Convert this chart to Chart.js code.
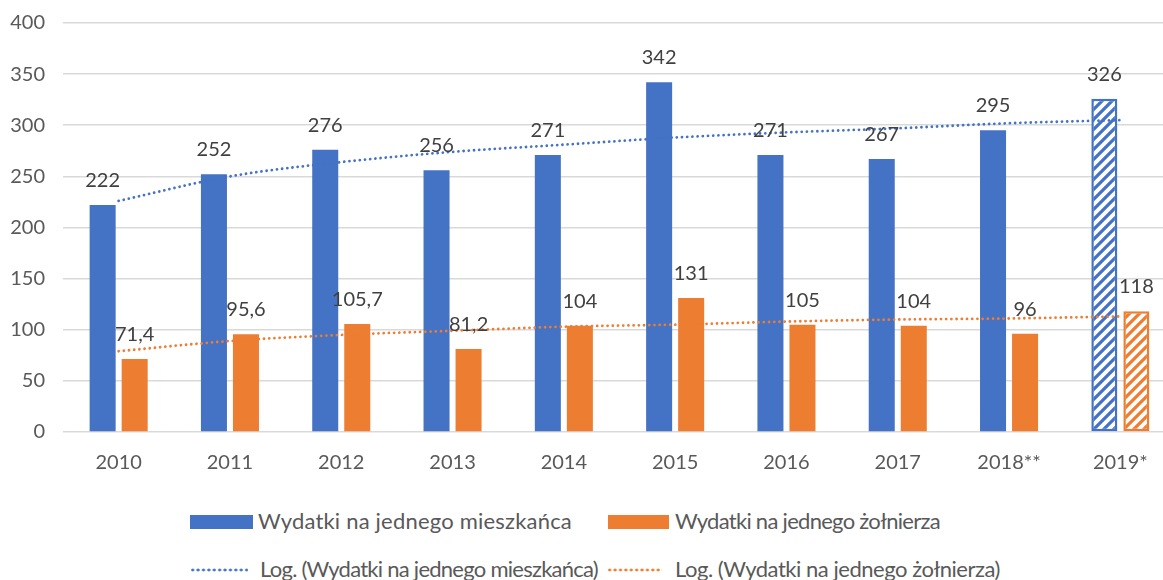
<!DOCTYPE html>
<html lang="pl">
<head>
<meta charset="utf-8">
<title>Wydatki</title>
<script src="https://cdn.jsdelivr.net/npm/chart.js@4.4.1/dist/chart.umd.min.js"></script>
<style>
  html, body { margin: 0; padding: 0; background: #fff; overflow: hidden; width: 1163px; height: 580px; }
  #wrap { position: relative; width: 1180px; height: 580px; }
  #c { position: absolute; left: 0; top: -7px; }
  .lg { position: absolute; font-family: Lato, sans-serif; font-size: 22px; color: #595959; white-space: nowrap; line-height: 26px; }
  .sw { position: absolute; height: 14px; }
  .dot { position: absolute; height: 4px; background-repeat: repeat-x; background-size: 5.4px 4px; }
</style>
</head>
<body>
<div id="wrap">
  <canvas id="c" width="1180" height="507"></canvas>
  <div class="sw" style="left:190px;top:515px;width:63px;background:#4472C4"></div>
  <div class="lg" data-w="314" style="left:258px;top:508px">Wydatki na jednego mieszkańca</div>
  <div class="sw" style="left:608px;top:515px;width:61px;background:#ED7D31"></div>
  <div class="lg" data-w="265" style="left:675px;top:508px">Wydatki na jednego żołnierza</div>
  <div class="dot" style="left:190px;top:568px;width:58px;background-image:radial-gradient(circle, #4472C4 1.3px, rgba(68,114,196,0) 1.7px)"></div>
  <div class="lg" data-w="338" style="left:260px;top:556px">Log. (Wydatki na jednego mieszkańca)</div>
  <div class="dot" style="left:607px;top:568px;width:55px;background-image:radial-gradient(circle, #ED7D31 1.3px, rgba(237,125,49,0) 1.7px)"></div>
  <div class="lg" data-w="325" style="left:675px;top:556px">Log. (Wydatki na jednego żołnierza)</div>
</div>
<script>
// ---- data ----
const categories = ['2010', '2011', '2012', '2013', '2014', '2015', '2016', '2017', '2018**', '2019*'];
const wydatkiMieszkanca = [222, 252, 276, 256, 271, 342, 271, 267, 295, 326];
const wydatkiZolnierza = [71.4, 95.6, 105.7, 81.2, 104, 131, 105, 104, 96, 118];
// logarithmic trend lines
const trendMieszkanca = [226, 250, 264, 274, 281, 288, 293, 297, 302, 305];
const trendZolnierza = [79, 89, 95, 99, 103, 105, 108, 110, 111, 113];
const yTicks = [0, 50, 100, 150, 200, 250, 300, 350, 400];
const seriesNames = ['Wydatki na jednego mieszkańca', 'Wydatki na jednego żołnierza',
  'Log. (Wydatki na jednego mieszkańca)', 'Log. (Wydatki na jednego żołnierza)'];
const hatchedIndex = 9;

const BLUE = '#4472C4', ORANGE = '#ED7D31';

function hatch(color) {
  const s = 10;
  const c = document.createElement('canvas');
  c.width = s; c.height = s;
  const g = c.getContext('2d');
  g.fillStyle = '#fff';
  g.fillRect(0, 0, s, s);
  g.strokeStyle = color;
  g.lineWidth = 3.2;
  g.beginPath();
  g.moveTo(-2, s + 2); g.lineTo(s + 2, -2);
  g.moveTo(-2, 2); g.lineTo(2, -2);
  g.moveTo(s - 2, s + 2); g.lineTo(s + 2, s - 2);
  g.stroke();
  return g.createPattern(c, 'repeat');
}

const labelPlugin = {
  id: 'barLabels',
  afterDatasetsDraw(chart) {
    const ctx = chart.ctx;
    ctx.save();
    ctx.font = '20px Lato';
    ctx.fillStyle = '#404040';
    ctx.textAlign = 'center';
    ctx.textBaseline = 'alphabetic';
    chart.data.datasets.forEach((ds, i) => {
      if (ds.type !== 'bar') return;
      chart.getDatasetMeta(i).data.forEach((el, j) => {
        ctx.fillText(String(ds.data[j]).replace('.', ','), el.x, el.y - 18);
      });
    });
    ctx.restore();
  }
};

function fitLegend() {
  document.querySelectorAll('.lg').forEach(el => {
    const target = +el.dataset.w;
    const n = el.textContent.length;
    const w = el.getBoundingClientRect().width;
    el.style.letterSpacing = ((target - w) / n) + 'px';
  });
}

function build() {
  fitLegend();
  const hb = hatch(BLUE), ho = hatch(ORANGE);
  const bg = (col, pat) => categories.map((_, i) => i === hatchedIndex ? pat : col);
  const bw = categories.map((_, i) => i === hatchedIndex ? 2.5 : 0);
  new Chart(document.getElementById('c'), {
    data: {
      labels: categories,
      datasets: [
        { type: 'bar', label: seriesNames[0], data: wydatkiMieszkanca, backgroundColor: bg(BLUE, hb),
          borderColor: BLUE, borderWidth: bw, borderSkipped: false, order: 2,
          categoryPercentage: 0.5755, barPercentage: 0.8125 },
        { type: 'bar', label: seriesNames[1], data: wydatkiZolnierza, backgroundColor: bg(ORANGE, ho),
          borderColor: ORANGE, borderWidth: bw, borderSkipped: false, order: 2,
          categoryPercentage: 0.5755, barPercentage: 0.8125 },
        { type: 'line', label: seriesNames[2], data: trendMieszkanca, borderColor: BLUE, borderWidth: 2.8,
          borderDash: [0.01, 5.2], borderCapStyle: 'round', pointRadius: 0, fill: false,
          cubicInterpolationMode: 'monotone', order: 1 },
        { type: 'line', label: seriesNames[3], data: trendZolnierza, borderColor: ORANGE, borderWidth: 2.8,
          borderDash: [0.01, 5.2], borderCapStyle: 'round', pointRadius: 0, fill: false,
          cubicInterpolationMode: 'monotone', order: 1 }
      ]
    },
    options: {
      responsive: false,
      animation: false,
      layout: { padding: { top: 16, right: 4, left: 0, bottom: 0 } },
      plugins: { legend: { display: false }, tooltip: { enabled: false } },
      scales: {
        x: {
          grid: { display: false, drawTicks: false },
          border: { display: false },
          ticks: { color: '#595959', font: { family: 'Lato', size: 20 }, padding: 19, maxRotation: 0, autoSkip: false },
          afterFit(s) { s.height = 68; }
        },
        y: {
          min: 0, max: 400,
          afterBuildTicks(s) { s.ticks = yTicks.map(v => ({ value: v })); },
          grid: { color: '#D9D9D9', lineWidth: 1.6, drawTicks: false },
          border: { display: false },
          ticks: { color: '#595959', font: { family: 'Lato', size: 20 }, padding: 18 },
          afterFit(s) { s.width = 63; }
        }
      }
    },
    plugins: [labelPlugin]
  });
}

Promise.all([document.fonts.load('20px Lato'), document.fonts.load('22px Lato')]).then(build, build);
</script>
</body>
</html>
